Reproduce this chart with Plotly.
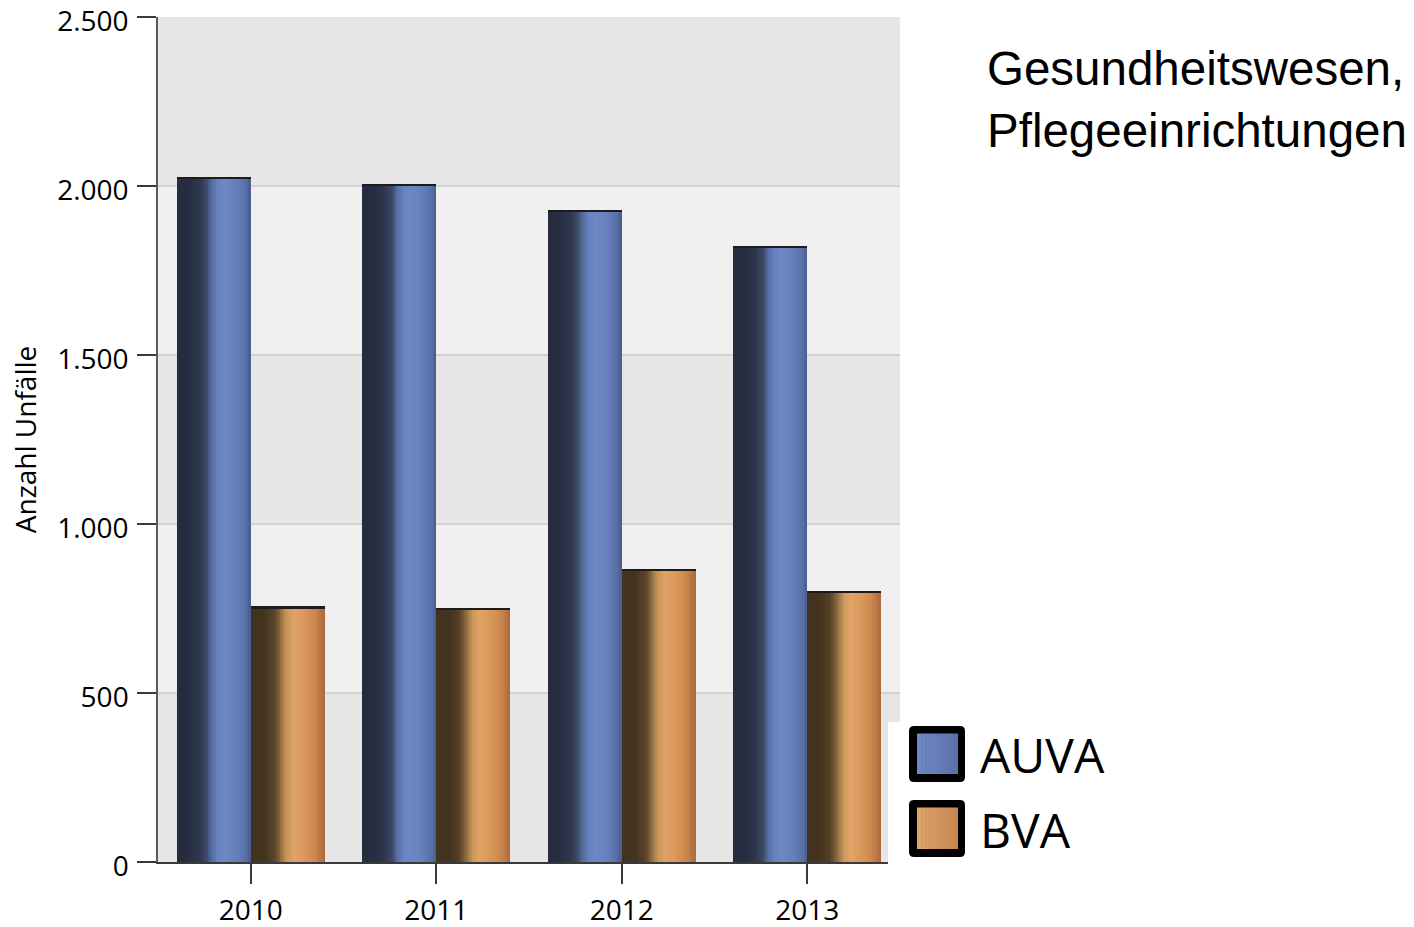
import plotly.graph_objects as go

# ---------------- data ----------------
years = ["2010", "2011", "2012", "2013"]
auva = [2026, 2007, 1930, 1822]
bva = [756, 751, 867, 801]
series_names = ["AUVA", "BVA"]
y_ticks = [0, 500, 1000, 1500, 2000, 2500]
title_lines = ["Gesundheitswesen,", "Pflegeeinrichtungen"]
y_title = "Anzahl Unfälle"

# ---------------- styling ----------------
W, H = 1414, 927
L, R, T, B = 158, 900, 17, 862  # plot area in pixels

auva_grad = [(0.00, "#252c3e"), (0.15, "#262d40"), (0.30, "#2e364c"), (0.40, "#3c4864"),
             (0.48, "#5670a6"), (0.56, "#6883bf"), (0.66, "#6d88c4"), (0.80, "#6580bb"),
             (0.92, "#5a72aa"), (1.00, "#4a5e8e")]
bva_grad = [(0.00, "#42321f"), (0.20, "#45351f"), (0.32, "#5a4428"), (0.40, "#8a6a40"),
            (0.48, "#c99458"), (0.58, "#e0a468"), (0.70, "#dc9a5e"), (0.85, "#cf8a50"),
            (1.00, "#aa6a3c")]
auva_swatch = [(0.0, "#7088c6"), (1.0, "#5a71a9")]
bva_swatch = [(0.0, "#dda56c"), (1.0, "#c7854f")]


def hex2rgb(h):
    h = h.lstrip("#")
    return tuple(int(h[i:i + 2], 16) for i in (0, 2, 4))


def grad_color(stops, t):
    for (t0, c0), (t1, c1) in zip(stops[:-1], stops[1:]):
        if t0 <= t <= t1:
            f = 0 if t1 == t0 else (t - t0) / (t1 - t0)
            a, b = hex2rgb(c0), hex2rgb(c1)
            return "rgb(%d,%d,%d)" % tuple(round(a[k] + (b[k] - a[k]) * f) for k in range(3))
    return stops[-1][1]


fig = go.Figure()

BAR_W = 0.4
N = 40
step = BAR_W / N
for vals, start, stops in [(auva, -BAR_W, auva_grad), (bva, 0.0, bva_grad)]:
    for i in range(N):
        w = min(step * 1.6, BAR_W - i * step)
        fig.add_trace(go.Bar(
            x=years, y=vals, offset=start + i * step, width=w,
            marker=dict(color=grad_color(stops, (i + 0.5) / N), line=dict(width=0)),
            showlegend=False, hoverinfo="skip"))
    # dark top edge of each bar
    fig.add_trace(go.Bar(
        x=years, y=[6] * len(vals), base=[v - 6 for v in vals],
        offset=start, width=BAR_W,
        marker=dict(color="#1c1c1c", line=dict(width=0)),
        showlegend=False, hoverinfo="skip"))

# alternating background bands
shapes = []
band_cols = ["#e6e6e6", "#f0f0f0"]
for k, (a, b) in enumerate(zip(y_ticks[:-1], y_ticks[1:])):
    shapes.append(dict(type="rect", xref="x domain", yref="y", x0=0, x1=1, y0=a, y1=b,
                       fillcolor=band_cols[k % 2], line=dict(width=0), layer="below"))


def px_x(p):
    return (p - L) / (R - L)


def px_y(p):
    return (B - p) / (B - T)


def rrect_path(x0, y0, x1, y1, r):
    pts = lambda x, y: "%.6f,%.6f" % (px_x(x), px_y(y))
    return ("M " + pts(x0 + r, y0) + " L " + pts(x1 - r, y0) + " Q " + pts(x1, y0) + " " + pts(x1, y0 + r)
            + " L " + pts(x1, y1 - r) + " Q " + pts(x1, y1) + " " + pts(x1 - r, y1)
            + " L " + pts(x0 + r, y1) + " Q " + pts(x0, y1) + " " + pts(x0, y1 - r)
            + " L " + pts(x0, y0 + r) + " Q " + pts(x0, y0) + " " + pts(x0 + r, y0) + " Z")


# white legend box overlapping the plot corner
shapes.append(dict(type="rect", xref="paper", yref="paper",
                   x0=px_x(888), x1=px_x(905), y0=px_y(866), y1=px_y(722),
                   fillcolor="white", line=dict(width=0), layer="above"))

# legend swatches
legend_rows = [(726, 782, auva_swatch), (800, 857, bva_swatch)]
annotations = []
for (y0, y1, stops), name in zip(legend_rows, series_names):
    shapes.append(dict(type="path", xref="paper", yref="paper",
                       path=rrect_path(909, y0, 965, y1, 5),
                       fillcolor="black", line=dict(width=0), layer="above"))
    ix0, ix1 = 917, 958
    ns = 10
    for j in range(ns):
        t = (j + 0.5) / ns
        shapes.append(dict(type="rect", xref="paper", yref="paper",
                           x0=px_x(ix0 + (ix1 - ix0) * j / ns),
                           x1=px_x(ix0 + (ix1 - ix0) * (j + 1) / ns + (0.6 if j < ns - 1 else 0)),
                           y0=px_y(y1 - 8), y1=px_y(y0 + 7.5),
                           fillcolor=grad_color(stops, t), line=dict(width=0), layer="above"))
    annotations.append(dict(text=name, xref="paper", yref="paper",
                            x=px_x(978), y=px_y((y0 + y1) / 2 + 0.5), xanchor="left", yanchor="middle",
                            showarrow=False, font=dict(family="Open Sans", size=48, color="black")))

annotations.append(dict(text="<br>".join(title_lines), xref="paper", yref="paper",
                        x=px_x(985), y=px_y(40), xanchor="left", yanchor="top", align="left",
                        showarrow=False, font=dict(family="Liberation Sans, Arial", size=47.5, color="black")))

fig.update_layout(
    width=W, height=H,
    margin=dict(l=L, r=W - R, t=T, b=H - B, pad=0, autoexpand=False),
    paper_bgcolor="white", plot_bgcolor="white",
    barmode="overlay", bargap=0,
    showlegend=False,
    separators=",.",
    shapes=shapes, annotations=annotations,
    font=dict(family="Open Sans", size=28, color="black"),
)
fig.update_xaxes(
    type="category", range=[-0.5, 3.5], showgrid=False, zeroline=False, automargin=False,
    showline=True, linecolor="#3a3a3a", linewidth=1.5,
    ticks="outside", ticklen=20, tickwidth=1.5, tickcolor="#3a3a3a",
    ticklabelstandoff=3, ticklabeloverflow="allow",
    tickfont=dict(family="Open Sans", size=28, color="black"),
)
fig.update_yaxes(
    range=[0, 2500], tickvals=y_ticks, tickformat=",d", automargin=False,
    showgrid=True, gridcolor="#d2d2d2", gridwidth=1.5, zeroline=False,
    showline=True, linecolor="#5a5a5a", linewidth=1.5,
    ticks="outside", ticklen=19, tickwidth=1.5, tickcolor="#3a3a3a",
    ticklabelstandoff=3, ticklabelshift=4, ticklabeloverflow="allow",
    tickfont=dict(family="Open Sans", size=28, color="black"),
    title=dict(text=y_title, font=dict(family="Open Sans", size=28, color="black"), standoff=12),
)

fig.write_html("out.html", config={"displayModeBar": False},
               post_script="document.body.style.margin='0';document.body.style.overflow='hidden';")
